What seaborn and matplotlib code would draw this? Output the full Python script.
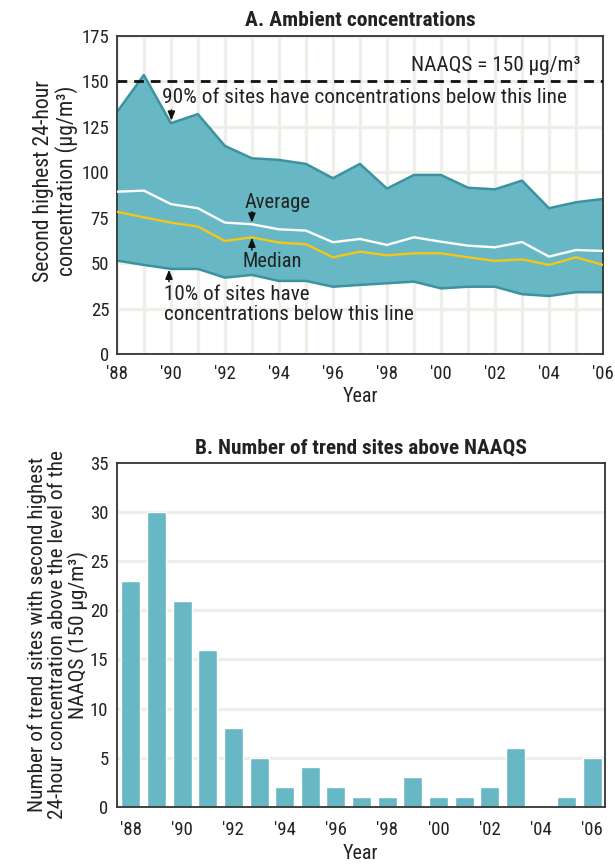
import numpy as np
import pandas as pd
import matplotlib
matplotlib.use("Agg")
import matplotlib.pyplot as plt
from matplotlib import font_manager as fm
import seaborn as sns

years = list(range(1988, 2007))
p90 = [133, 153.5, 127, 132, 114.5, 107.7, 106.8, 104.6, 96.7, 104.6, 91, 98.5, 98.5, 91.5, 90.6, 95.4, 80.2, 83.5, 85.3]
average = [89.3, 89.9, 82.5, 80.2, 72.3, 71.4, 68.6, 67.9, 61.5, 63.3, 60, 64.2, 61.8, 59.6, 58.7, 61.6, 53.6, 57.2, 56.7]
median = [78.3, 75.2, 72.3, 70.1, 62.2, 64.2, 61.3, 60.4, 53.2, 56.3, 54.3, 55.4, 55.4, 53.2, 51.2, 52.1, 49, 53.2, 49]
p10 = [51.4, 49, 46.8, 46.8, 42, 43.5, 40.2, 40.2, 37, 38, 38.9, 39.8, 36.1, 37, 37, 32.9, 31.9, 34, 34]
sites_above = [23, 30, 21, 16, 8, 5, 2, 4, 2, 1, 1, 3, 1, 1, 2, 6, 0, 1, 5]
year_labels = ["'88", "", "'90", "", "'92", "", "'94", "", "'96", "", "'98", "",
               "'00", "", "'02", "", "'04", "", "'06"]
naaqs = 150

sns.set_theme(style="white")

# ---- choose a condensed font ----
entries = fm.fontManager.ttflist
def weights(name):
    out = set()
    for f in entries:
        if f.name == name and f.style == 'normal':
            try:
                out.add(int(f.weight))
            except Exception:
                out.add(700 if 'bold' in str(f.weight) else 400)
    return out
prefs = ['Roboto Condensed', 'Liberation Sans Narrow', 'Archivo Narrow', 'PT Sans Narrow',
         'Fira Sans Condensed', 'IBM Plex Sans Condensed', 'Encode Sans Condensed',
         'Asap Condensed', 'Barlow Semi Condensed', 'Sofia Sans Condensed',
         'Open Sans Condensed', 'Saira Condensed', 'DejaVu Sans']
body = None
bold = None
for p in prefs:
    w = weights(p)
    if not w:
        continue
    if body is None and any(x <= 450 for x in w):
        body = p
    if bold is None and any(x >= 650 for x in w):
        bold = p
    if body and bold:
        break
body = body or 'DejaVu Sans'
bold = bold or body
plt.rcParams['font.family'] = [body, 'DejaVu Sans']
plt.rcParams['axes.edgecolor'] = '#333333'
plt.rcParams['axes.linewidth'] = 1.3

TEAL = '#67b8c4'
EDGE = '#3d929f'
GRID = '#efefea'
TXT = '#222222'

df = pd.DataFrame({'year': years, 'p90': p90, 'avg': average, 'med': median, 'p10': p10,
                   'sites': sites_above})

fig = plt.figure(figsize=(6.15, 8.65), dpi=100)
ax1 = fig.add_axes([0.19, 0.5908, 0.7905, 0.3676])
ax2 = fig.add_axes([0.19, 0.0674, 0.7937, 0.3973])

# ---- Panel A ----
for y in range(0, 176, 25):
    ax1.axhline(y, color=GRID, lw=2.4, zorder=0)
for x in years:
    ax1.axvline(x, color=GRID, lw=2.4, zorder=0)
ax1.fill_between(df['year'], df['p10'], df['p90'], color=TEAL, lw=0, zorder=1)
sns.lineplot(data=df, x='year', y='p90', ax=ax1, color=EDGE, lw=1.8, zorder=2)
sns.lineplot(data=df, x='year', y='p10', ax=ax1, color=EDGE, lw=1.8, zorder=2)
sns.lineplot(data=df, x='year', y='avg', ax=ax1, color='white', lw=1.7, zorder=3)
sns.lineplot(data=df, x='year', y='med', ax=ax1, color='#f5c518', lw=1.7, zorder=3)
ax1.axhline(naaqs, color='#111111', lw=2, ls=(0, (3.5, 2.5)), zorder=4)

ax1.set_xlim(1988, 2006)
ax1.set_ylim(0, 175)
ax1.set_yticks(range(0, 176, 25))
ax1.set_xticks(years)
ax1.set_xticklabels(year_labels)
ax1.tick_params(axis='x', direction='out', length=5, width=2.2, color='#222222',
                labelsize=13.5, labelcolor=TXT, pad=3)
ax1.tick_params(axis='y', direction='inout', length=5, width=2.2, color='#222222',
                labelsize=13.5, labelcolor=TXT, pad=3)
ax1.set_xlabel('Year', fontsize=14, color=TXT, labelpad=3)
ax1.set_ylabel('Second highest 24-hour\nconcentration (µg/m³)', fontsize=14.5,
               color=TXT, linespacing=1.05)
ax1.yaxis.set_label_coords(-0.080, 0.545)
tA = ax1.set_title('A. Ambient concentrations', fontsize=13.5, fontweight='bold',
                   family=[bold, 'DejaVu Sans'], color=TXT, pad=7)
for s in ax1.spines.values():
    s.set_color('#333333')

ak = dict(arrowstyle='-|>,head_length=0.45,head_width=0.18', color='#111111', lw=1.1,
          shrinkA=0, shrinkB=0)
t_naaqs = ax1.text(2005.15, 158.5, 'NAAQS = 150 µg/m³', fontsize=14.5, color=TXT,
                   ha='right', va='center')
t90 = ax1.text(1989.67, 141.4, '90% of sites have concentrations below this line',
               fontsize=14.5, color=TXT, ha='left', va='center')
ax1.annotate('', xy=(1990.02, 128.4), xytext=(1990.02, 134.3), arrowprops=dict(ak))
tavg = ax1.text(1992.74, 83.6, 'Average', fontsize=14.5, color=TXT, ha='left', va='center')
ax1.annotate('', xy=(1993, 72.3), xytext=(1993, 78.3), arrowprops=dict(ak))
tmed = ax1.text(1992.67, 51, 'Median', fontsize=14.5, color=TXT, ha='left', va='center')
ax1.annotate('', xy=(1993, 64.0), xytext=(1993, 57.2), arrowprops=dict(ak))
t10 = ax1.text(1989.74, 27, '10% of sites have\nconcentrations below this line', fontsize=14.5,
               color=TXT, ha='left', va='center', linespacing=1.08)
ax1.annotate('', xy=(1989.93, 46.4), xytext=(1989.93, 39.8), arrowprops=dict(ak))

# ---- Panel B ----
for y in range(5, 35, 5):
    ax2.axhline(y, color=GRID, lw=2.4, zorder=0)
sns.barplot(data=df, x='year', y='sites', ax=ax2, color=TEAL, saturation=1,
            width=0.74, zorder=2, errorbar=None)
ax2.set_xticks(range(len(years)))
ax2.set_xticklabels(year_labels)
ax2.set_xlim(-0.55, 18.5)
ax2.set_ylim(0, 35)
ax2.set_yticks(range(0, 36, 5))
ax2.tick_params(axis='x', direction='out', length=7, width=2.2, color='#222222',
                labelsize=13.5, labelcolor=TXT, pad=3)
ax2.tick_params(axis='y', length=0, labelsize=13.5, labelcolor=TXT, pad=6)
ax2.set_xlabel('Year', fontsize=14, color=TXT, labelpad=4)
ax2.set_ylabel('Number of trend sites with second highest\n24-hour concentration above the level of the\nNAAQS (150 µg/m³)',
               fontsize=14.5, color=TXT, linespacing=1.05)
ax2.yaxis.set_label_coords(-0.057, 0.5)
tB = ax2.set_title('B. Number of trend sites above NAAQS', fontsize=13.5, fontweight='bold',
                   family=[bold, 'DejaVu Sans'], color=TXT, pad=7)
for s in ax2.spines.values():
    s.set_color('#333333')

# ---- fit text sizes to the reference's measured widths ----
fig.canvas.draw()
r = fig.canvas.get_renderer()
def fit(t, target, vertical=False):
    bb = t.get_window_extent(r)
    w = bb.height if vertical else bb.width
    if w > 0:
        t.set_fontsize(t.get_fontsize() * target / w)

fit(t90, 405)
fit(t_naaqs, 170)
fit(tavg, 66)
fit(tmed, 59)
fit(t10, 249)
fit(tA, 230)
fit(tB, 333)
fit(ax1.yaxis.label, 202, vertical=True)
fit(ax2.yaxis.label, 368, vertical=True)
fit(ax1.xaxis.label, 36)
fit(ax2.xaxis.label, 36)

fig.savefig('out.png', dpi=100)
